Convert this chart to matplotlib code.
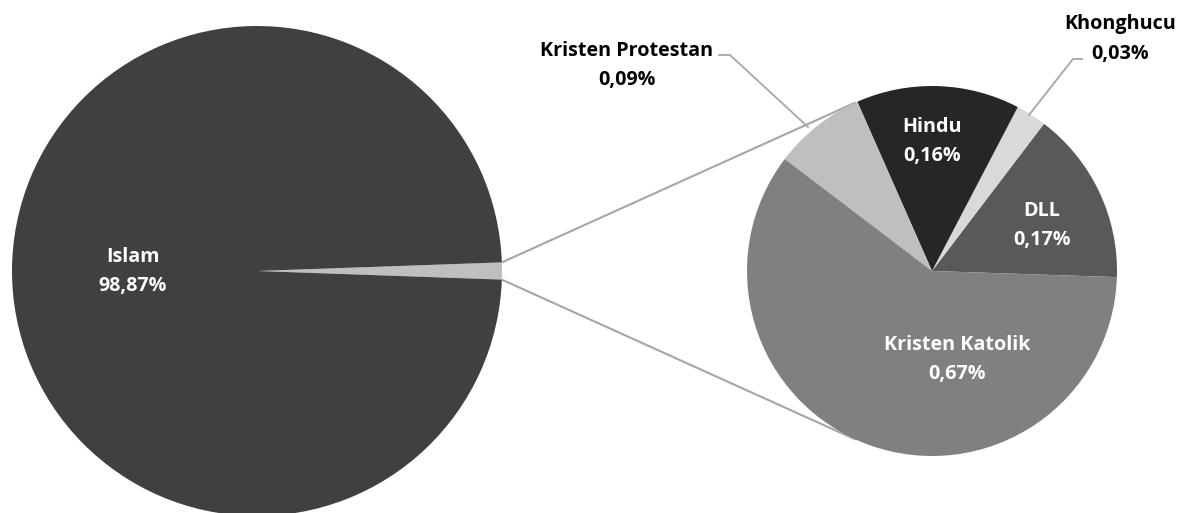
import numpy as np
import matplotlib
matplotlib.use("Agg")
import matplotlib.pyplot as plt

# ---- data ----
main_labels = ["Islam", "Lainnya"]
main_value_islam = 98.87
detail_labels = ["DLL", "Khonghucu", "Hindu", "Kristen Protestan", "Kristen Katolik"]
detail_values = [0.17, 0.03, 0.16, 0.09, 0.67]
detail_text = ["0,17%", "0,03%", "0,16%", "0,09%", "0,67%"]
islam_text = "98,87%"

# ---- style ----
W, H = 1188, 513
plt.rcParams['font.family'] = ['Open Sans', 'DejaVu Sans']
FS = 14.2
islam_color = "#404040"
others_color = "#bfbfbf"
detail_colors = ["#595959", "#d9d9d9", "#262626", "#bfbfbf", "#808080"]
line_color = "#a6a6a6"

fig = plt.figure(figsize=(W / 100, H / 100), dpi=100)
ax = fig.add_axes([0, 0, 1, 1])

others = sum(detail_values)
total = main_value_islam + others

# left pie: the "others" slice centred on 0 degrees
C1 = np.array([257.0, H - 271.0]); R1 = 245.0
half = others / total * 360 / 2
ax.pie([others, main_value_islam], colors=[others_color, islam_color],
       startangle=-half, center=tuple(C1), radius=R1,
       wedgeprops=dict(linewidth=0), frame=True)

# right pie
C2 = np.array([932.0, H - 271.0]); R2 = 185.0
ax.pie(detail_values, colors=detail_colors, startangle=-1.9, center=tuple(C2), radius=R2,
       wedgeprops=dict(linewidth=0), frame=True)

# connector lines: from the edges of the small slice to tangent points on right pie
for sgn in (1, -1):
    a = np.deg2rad(sgn * half)
    P = C1 + R1 * np.array([np.cos(a), np.sin(a)])
    v = P - C2
    d = np.hypot(*v)
    phi = np.arctan2(v[1], v[0])
    t = phi - sgn * np.arccos(R2 / d)
    T = C2 + R2 * np.array([np.cos(t), np.sin(t)])
    ax.plot([P[0], T[0]], [P[1], T[1]], color=line_color, lw=1.5, solid_capstyle='butt', zorder=0)

def px(x, y):
    return x, H - y

txt = dict(ha='center', va='center', fontsize=FS, fontweight='bold', linespacing=1.6)
ax.text(*px(133, 272), f"{main_labels[0]}\n{islam_text}", color='white', **txt)
ax.text(*px(932, 141), f"{detail_labels[2]}\n{detail_text[2]}", color='white', **txt)
ax.text(*px(1042, 226), f"{detail_labels[0]}\n{detail_text[0]}", color='white', **txt)
ax.text(*px(957, 360), f"{detail_labels[4]}\n{detail_text[4]}", color='white', **txt)
ax.text(*px(627, 65), f"{detail_labels[3]}\n{detail_text[3]}", color='black', **txt)
ax.text(*px(1120, 39), f"{detail_labels[1]}\n{detail_text[1]}", color='black', **txt)

# leader lines
ax.plot(*zip(px(719, 55), px(730, 55), px(808, 127)), color=line_color, lw=1.3, zorder=3)
ax.plot(*zip(px(1082, 59), px(1073, 59), px(1029, 115)), color=line_color, lw=1.3, zorder=3)

ax.set_xlim(0, W)
ax.set_ylim(0, H)
ax.set_aspect('equal')
ax.axis('off')
fig.savefig("out.png", dpi=100, facecolor='white')
